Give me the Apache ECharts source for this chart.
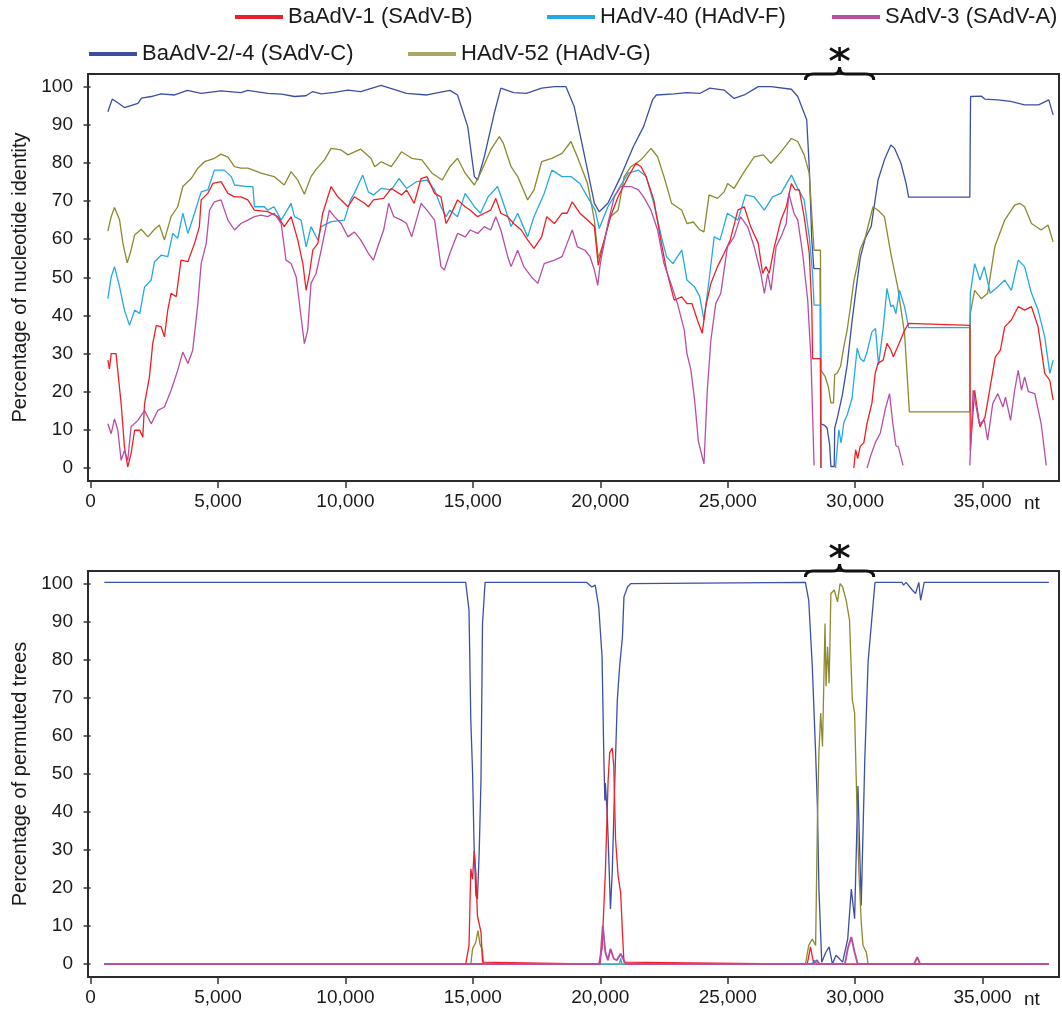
<!DOCTYPE html>
<html>
<head>
<meta charset="utf-8">
<title>Similarity and bootscan plots</title>
<script src="https://cdn.jsdelivr.net/npm/echarts@6/dist/echarts.min.js"></script>
<style>
  html, body { margin: 0; padding: 0; background: #fff; }
  #chart { width: 1062px; height: 1009px; }
</style>
</head>
<body>
<div id="chart"></div>
<script>
// series names as in the legend
var names = ['BaAdV-1 (SAdV-B)', 'HAdV-40 (HAdV-F)', 'SAdV-3 (SAdV-A)', 'BaAdV-2/-4 (SAdV-C)', 'HAdV-52 (HAdV-G)']

var xTicks = [0, 5000, 10000, 15000, 20000, 25000, 30000, 35000]
var yTicks = [0, 10, 20, 30, 40, 50, 60, 70, 80, 90, 100]

// region marked with the asterisk (nt)
var braceRange = [28050, 30730]

// ---- top panel: percentage of nucleotide identity ----
var simBlue = [[680,93.4],[850,96.7],[1000,96.1],[1330,94.5],[1860,95.6],[2000,97],[2380,97.4],[2770,98.1],[3300,97.8],[3800,99],[4340,98.2],[5120,98.9],[5900,98.4],[6170,99],[6950,98.2],[7500,98],[8000,97.4],[8450,97.6],[8720,98.7],[9050,98.1],[9570,98.5],[10100,99.1],[10600,98.7],[11400,100.3],[12400,98.2],[13200,97.8],[14100,99],[14400,97.8],[14800,89.5],[15060,76.4],[15190,75.5],[15450,81.6],[15840,93],[16100,99.6],[16600,98.4],[17100,98.2],[17700,99.6],[18200,100],[18650,100],[18980,94.7],[19500,78.1],[19770,69.4],[19960,67.2],[20300,69.4],[20800,76.4],[21300,84.3],[21700,89.5],[22050,96.5],[22200,97.8],[22900,98.1],[23400,98.4],[23900,98.2],[24300,99.6],[24860,99.1],[25250,96.9],[25650,97.8],[26200,100],[26700,100],[27500,99.3],[27750,97.4],[28100,91.3],[28200,79],[28300,59.8],[28380,52.3],[28630,52.3],[28650,11.6],[28800,11.2],[28900,10.5],[29000,6.1],[29050,0.4],[29180,0.4],[29200,10.5],[29300,13.1],[29500,19.2],[29690,27.1],[29880,38.5],[30080,49],[30200,55.1],[30400,60.3],[30630,63.3],[30900,75.5],[31150,80.8],[31400,84.7],[31550,83.8],[31800,79.9],[32000,74.6],[32100,71],[34500,71],[34530,97.4],[34950,97.5],[35100,96.7],[35600,96.5],[36100,96.1],[36650,95.2],[37200,95.2],[37600,96.5],[37770,92.6]]

var simOlive = [[680,62.1],[810,65.9],[940,68.3],[1140,65],[1270,58.9],[1440,53.8],[1590,57.1],[1730,61.1],[1990,62.6],[2250,60.6],[2510,62.6],[2700,63.7],[2900,59.8],[3160,65.9],[3420,68.5],[3620,73.8],[3950,75.9],[4210,78.6],[4470,80.3],[4860,81.2],[5120,82.3],[5390,81.5],[5650,79],[5900,78.6],[6170,78.6],[6690,77.3],[7200,76.4],[7600,74.2],[7870,77.7],[8130,75.5],[8390,71.8],[8650,76.4],[8850,78.3],[9180,80.8],[9440,83.8],[9830,83.4],[10100,82.1],[10600,83.6],[11000,81.2],[11150,79],[11400,80.3],[11800,79],[12200,82.9],[12600,81.2],[13000,80.8],[13400,77.3],[13800,75.5],[14100,79],[14400,81.2],[14700,77.3],[15060,74.2],[15300,77.3],[15700,83.4],[16040,86.9],[16200,85.1],[16500,79],[16760,76.4],[17150,70.3],[17400,72.9],[17700,80.3],[18100,81.2],[18500,82.5],[18850,85.6],[19100,81.6],[19500,74.6],[19770,65],[19920,54.9],[20160,59.8],[20400,65.9],[20700,67.6],[20940,76.4],[21200,79],[21600,80.8],[21990,83.8],[22250,81.6],[22500,76.4],[22800,69.4],[23200,67.6],[23400,64.1],[23650,64.5],[23900,62.5],[24070,61.9],[24270,71.6],[24600,70.7],[24860,72.4],[25000,74.6],[25250,73.3],[25650,77.7],[26040,81.6],[26400,82.1],[26700,79.9],[27090,82.9],[27500,86.4],[27750,85.6],[28000,82.1],[28200,77.3],[28330,63.3],[28390,57.1],[28640,57.1],[28660,25.6],[28820,24],[28950,21.3],[29050,17.1],[29150,17.1],[29200,24.5],[29300,24.9],[29430,26.7],[29560,31.9],[29690,36.3],[29820,42.4],[29950,49],[30080,53],[30200,57.3],[30400,60.5],[30700,68.5],[30900,67.6],[31150,65.9],[31400,56.3],[31670,47.5],[31940,35.3],[32130,14.7],[34500,14.7],[34520,40.5],[34690,46.6],[34950,44.4],[35200,45.8],[35480,58],[35870,65],[36260,68.9],[36460,69.4],[36650,68.5],[36920,64.1],[37300,62.4],[37570,63.7],[37770,59.3]]

var simCyan = [[680,44.4],[810,50.1],[940,52.8],[1140,47.5],[1330,41.4],[1530,37.4],[1730,41.4],[1930,40.5],[2120,47.5],[2380,49.3],[2510,54.1],[2770,55.8],[3030,55.4],[3230,61.5],[3420,60.2],[3620,66.8],[3820,61.5],[4080,66.8],[4340,72.4],[4600,72.9],[4860,78.1],[5250,78.1],[5520,76.4],[5650,74.2],[6170,73.8],[6370,73.8],[6430,68.5],[6820,68.5],[6950,67.6],[7200,68.5],[7480,65],[7870,69.4],[8000,65.9],[8260,65],[8460,58],[8650,63.3],[8920,59.8],[9050,63.3],[9440,64.6],[9960,65],[10200,70.3],[10350,72],[10680,76.8],[10900,72.4],[11100,71.6],[11400,73.3],[11800,72.9],[12100,75.9],[12400,73.3],[12800,75.1],[13200,75.5],[13500,72.9],[13750,68.5],[13950,65.9],[14100,67.6],[14400,65.9],[14700,72],[15060,68.5],[15300,66.8],[15600,71.1],[15970,73.8],[16200,69.4],[16500,63.3],[16760,66.8],[17150,60.6],[17400,65.9],[17800,72],[18100,78.1],[18500,76.4],[18850,76.4],[19200,74.6],[19500,71.1],[19800,67.6],[19960,62.8],[20300,68.5],[20700,72.9],[21100,77.3],[21500,78.1],[21800,76.4],[22100,69.4],[22400,60.6],[22600,55.4],[22850,53.6],[23200,57.1],[23400,49.3],[23700,47.5],[23900,45],[24070,38.8],[24270,49.3],[24470,60.6],[24700,59.8],[24990,66.8],[25400,65],[25700,71.6],[26040,71.1],[26440,67.6],[26760,71.1],[27090,72],[27500,76.8],[27750,73.3],[28000,70.3],[28200,60.6],[28330,51],[28390,42.7],[28640,42.7],[28660,0],[28680,'-'],[29230,0],[29360,10],[29450,6.6],[29560,12],[29690,13.9],[29880,18.3],[30080,31.4],[30200,28.7],[30340,27.9],[30470,30.5],[30660,35.7],[30800,36.6],[30920,27],[31100,36.6],[31250,47.1],[31400,42.3],[31500,42.7],[31600,40.5],[31740,46.6],[31940,42.3],[32100,36.8],[34500,36.8],[34520,45.8],[34690,53.6],[34900,49.3],[35070,52.8],[35300,45.8],[35600,47.5],[35870,49.3],[36130,46.6],[36400,54.5],[36650,52.8],[36920,45.8],[37180,41.4],[37440,34.4],[37640,24.8],[37770,28.3]]

var simRed = [[680,28.3],[740,26],[810,30],[1000,30],[1200,16.9],[1330,5.5],[1460,0.3],[1590,3.8],[1730,9.9],[1930,9.9],[2050,8.1],[2120,16.9],[2310,23.9],[2440,32.6],[2580,37.4],[2770,37],[2900,34.4],[3030,41.4],[3160,45.8],[3360,44.9],[3550,54.5],[3820,54.1],[4080,58.9],[4270,63.3],[4340,70.3],[4600,72],[4800,74.6],[5120,75.1],[5390,72],[5650,71.1],[5900,71.1],[6170,70.3],[6430,67.6],[6950,67.2],[7350,65.9],[7600,63.3],[7870,65.9],[8130,59.8],[8330,53.6],[8460,46.6],[8590,51],[8720,57.1],[8920,58.9],[9110,66.8],[9440,73.8],[9700,71.1],[10100,68.5],[10350,71.1],[10750,69.4],[10900,68.5],[11100,70.3],[11500,70.7],[11800,73.3],[12200,71.6],[12400,72.9],[12700,69.4],[12970,75.9],[13200,76.4],[13500,72],[13750,71.1],[13950,64.1],[14100,65.9],[14400,70.3],[14700,68.5],[14900,67.6],[15190,65.9],[15450,66.8],[15700,67.6],[15900,70.7],[16100,66.8],[16370,65.9],[16600,64.1],[16900,62.4],[17150,59.8],[17400,57.6],[17700,60.6],[17900,65.9],[18200,64.1],[18500,66.8],[18700,66.8],[18900,69.8],[19200,66.8],[19500,65],[19770,63.3],[19920,53.2],[20160,59.8],[20400,65.9],[20700,71.1],[21100,76.4],[21400,79.9],[21600,79],[21800,76.4],[22100,70.3],[22400,58.9],[22600,51.9],[22900,44],[23200,44.9],[23400,43.1],[23600,43.1],[23800,39],[24000,35.3],[24140,42.3],[24340,48.4],[24600,52.8],[24860,56.3],[25100,59.8],[25400,67.6],[25650,68.5],[25900,63.3],[26200,58.9],[26370,51],[26500,52.8],[26630,51],[26830,58],[27090,65],[27300,68.5],[27500,74.6],[27650,72.9],[27810,72.9],[28000,65.9],[28200,56.3],[28300,42.3],[28330,28.7],[28640,28.7],[28660,0],[28680,'-'],[29950,0],[30020,4.8],[30100,2.5],[30200,5.7],[30340,6.6],[30470,11.8],[30660,17],[30790,24.9],[30900,27.5],[31100,28.3],[31250,32.7],[31400,31],[31500,29.2],[31670,31.8],[31940,36.1],[32100,37.9],[32150,37.4],[34500,37.4],[34520,4.6],[34690,20.4],[34800,15.1],[34900,10.8],[35100,13.4],[35300,21.3],[35500,29.1],[35700,30.9],[35870,37],[36130,38.8],[36400,42.3],[36650,41.4],[36920,42.3],[37180,37],[37440,24.8],[37640,23],[37770,17.8]]

var simMagenta = [[680,11.6],[810,9],[940,12.9],[1070,9.9],[1200,2],[1330,4.6],[1460,2],[1590,10.8],[1860,12.5],[2120,15.1],[2380,11.6],[2640,15.1],[2900,16],[3160,20.4],[3420,25.6],[3620,30.4],[3820,27.4],[4010,30.9],[4210,43.1],[4340,53.6],[4540,58.9],[4670,67.6],[4860,69.8],[5120,70.3],[5390,65],[5650,62.4],[5900,64.1],[6170,65],[6430,65.9],[6690,66.3],[6950,65.9],[7200,66.8],[7480,64.1],[7670,54.5],[7870,53.6],[8070,50.1],[8260,39.6],[8390,32.6],[8520,36.1],[8650,48.4],[8850,51],[9050,57.1],[9370,67.6],[9570,65.9],[9830,64.1],[10100,60.6],[10350,61.9],[10600,59.8],[10900,56.3],[11100,54.5],[11270,58],[11500,62.4],[11700,69.4],[11900,65.9],[12200,65],[12400,64.1],[12600,60.6],[12970,69.4],[13200,67.6],[13500,65],[13750,52.8],[13880,51.9],[14100,56.3],[14400,61.5],[14700,60.6],[14900,62.4],[15190,61.5],[15450,63.3],[15700,62.4],[15900,65.9],[16100,62.4],[16370,55.4],[16500,52.8],[16760,57.1],[17000,52.8],[17300,50.1],[17550,48.4],[17800,53.6],[18200,54.5],[18500,55.4],[18700,58.9],[18900,62.4],[19100,58],[19400,57.1],[19600,55.4],[19770,51.9],[19900,47.9],[20000,53.6],[20300,64.1],[20550,71.1],[20800,73.8],[21200,73.8],[21500,72.9],[21700,71.1],[21990,67.6],[22250,62.4],[22500,53.6],[22770,48.4],[23030,43.1],[23300,36.1],[23400,30],[23550,26],[23700,18],[23850,7],[24000,3],[24070,1.1],[24200,20.4],[24340,33.5],[24530,43.1],[24730,45.8],[24990,58],[25250,60.6],[25500,65.9],[25780,63.3],[26040,58],[26300,51],[26440,45.8],[26570,51],[26700,46.6],[26900,58],[27090,60.6],[27300,64.1],[27400,72],[27600,66.8],[27750,65],[27940,56.3],[28140,44],[28270,28.3],[28390,0.7],[28420,'-'],[30470,0],[30600,3],[30790,6.6],[30990,9.2],[31180,15.3],[31350,19.5],[31480,11.6],[31600,5.9],[31700,5.5],[31880,0.7],[31900,'-'],[34500,0.7],[34630,20.4],[34750,16],[34870,11.6],[35070,12.5],[35200,7.3],[35400,16.9],[35600,19.5],[35800,16],[35900,18.6],[36100,12.5],[36260,20.4],[36400,25.6],[36530,20.4],[36650,23.9],[36800,20],[37050,19.5],[37300,11.6],[37500,0.7]]

// ---- bottom panel: percentage of permuted trees ----
var bootBlue = [[540,100.3],[14720,100.3],[14850,93],[14920,64.2],[14990,50.3],[15050,31],[15120,18],[15180,17.1],[15250,29.3],[15320,48.5],[15380,89.5],[15480,100.3],[19470,100.3],[19670,99.1],[19800,99.6],[19940,93.9],[20070,80.8],[20140,54.6],[20180,43],[20200,47.6],[20270,39.8],[20310,32.8],[20400,14.5],[20470,24.1],[20580,50.3],[20670,69.5],[20760,78.2],[20870,86],[20930,96.5],[21070,99.1],[21200,100],[21270,100.3],[28050,100.3],[28180,95.6],[28320,78.2],[28450,55.5],[28520,41.5],[28580,19.7],[28690,0.5],[28850,3.1],[28980,4.5],[29110,0],[29250,2.3],[29510,0.5],[29710,6.6],[29850,19.7],[29980,11.9],[30110,46.8],[30240,15.4],[30380,53.8],[30510,79.5],[30640,89.5],[30780,100.3],[31840,100.3],[31900,99.6],[32000,100.3],[32240,98.3],[32370,97.4],[32500,100.3],[32570,95.6],[32710,100.3],[37600,100.3]]

var bootOlive = [[540,0],[14920,0],[14990,4],[15120,5.8],[15200,8.8],[15280,5.3],[15380,3.6],[15420,0],[28050,0],[28180,4.9],[28320,6.6],[28450,4.9],[28520,37.2],[28580,55.5],[28650,66],[28720,57.2],[28820,89.5],[28860,73],[28920,83.4],[28980,73.8],[29050,97.4],[29180,98.3],[29310,95.2],[29410,100],[29510,99.1],[29650,95.6],[29780,90.4],[29890,69.5],[29980,66],[30070,41.5],[30150,24.1],[30240,11],[30310,4.9],[30440,3.1],[30510,0],[37600,0]]

var bootCyan = [[540,0],[20750,0],[20800,1.5],[20850,0],[28300,0],[28400,1],[28500,0],[37600,0]]

var bootRed = [[540,0],[14720,0],[14850,4.9],[14920,25],[14990,22.3],[15050,29.8],[15120,24],[15180,12.7],[15320,8.4],[15380,0.5],[15420,0],[19940,0],[20070,4],[20200,24.1],[20310,48.5],[20370,55.5],[20470,56.8],[20530,52],[20600,32.8],[20700,23.2],[20800,18.8],[20870,8.4],[20930,0.5],[21000,0],[28120,0],[28250,4.5],[28350,1],[28400,0],[37600,0]]

var bootMagenta = [[540,0],[19990,0],[20100,10.1],[20200,3.1],[20300,1],[20400,4],[20530,1.4],[20650,1],[20800,2.7],[21000,0],[28350,0],[28500,1],[28600,0],[29600,0],[29710,4],[29850,7.1],[29980,3.1],[30100,0],[32310,0],[32440,1.8],[32550,0],[37600,0]]

var lineColors = { red: '#ef1f26', cyan: '#25a9e3', magenta: '#b64ea6', blue: '#3c4fa6', olive: '#8c8a2e' }
var legendColors = { red: '#e8202a', cyan: '#27a9e1', magenta: '#b6509f', blue: '#3b4ea0', olive: '#aaa765' }

var FONT = '"Liberation Sans", Arial, Helvetica, sans-serif'
var INK = '#1a1a1a'

function makeXAxis(gridIndex) {
  return {
    type: 'value',
    gridIndex: gridIndex,
    min: -100,
    max: 38000,
    axisLine: { show: false, onZero: false },
    axisTick: { show: true, customValues: xTicks, length: 7, lineStyle: { color: '#333', width: 1.5 } },
    axisLabel: {
      customValues: xTicks,
      margin: 11,
      fontSize: 19,
      color: INK,
      fontFamily: FONT,
      formatter: function(v) { return Number(v).toLocaleString('en-US') }
    },
    splitLine: { show: false },
    name: 'nt',
    nameLocation: 'end',
    nameGap: -35,
    nameTextStyle: { fontSize: 19, color: INK, fontFamily: FONT, verticalAlign: 'top', padding: [13, 0, 0, 0] }
  }
}

function makeYAxis(gridIndex, title) {
  return {
    type: 'value',
    gridIndex: gridIndex,
    min: -3.4,
    max: 103.3,
    axisLine: { show: false },
    axisTick: { show: true, customValues: yTicks, length: 7, lineStyle: { color: '#333', width: 1.5 } },
    axisLabel: { customValues: yTicks, margin: 15, fontSize: 19, color: INK, fontFamily: FONT },
    splitLine: { show: false },
    name: title,
    nameLocation: 'middle',
    nameGap: 53,
    nameTextStyle: { fontSize: 20, color: INK, fontFamily: FONT }
  }
}

function makeLine(name, data, color, idx, z, width) {
  return {
    name: name,
    type: 'line',
    xAxisIndex: idx,
    yAxisIndex: idx,
    data: data,
    z: z,
    symbol: 'none',
    connectNulls: false,
    lineStyle: { color: color, width: width || 1.3 },
    itemStyle: { color: color },
    emphasis: { disabled: true },
    silent: true
  }
}

function makeLegend(name, color, left, top) {
  return {
    left: left,
    top: top,
    padding: 0,
    selectedMode: false,
    icon: 'rect',
    itemWidth: 48,
    itemHeight: 4,
    textStyle: { fontSize: 22, color: INK, fontFamily: FONT },
    data: [{ name: name, itemStyle: { color: color } }]
  }
}

var chart = echarts.init(document.getElementById('chart'), null, { renderer: 'canvas' })

chart.setOption({
  animation: false,
  backgroundColor: '#fff',
  legend: [
    makeLegend(names[0], legendColors.red, 235, 6),
    makeLegend(names[1], legendColors.cyan, 547, 6),
    makeLegend(names[2], legendColors.magenta, 832, 6),
    makeLegend(names[3], legendColors.blue, 89, 43),
    makeLegend(names[4], legendColors.olive, 408, 43)
  ],
  grid: [
    { left: 88, top: 74, width: 971, height: 407, show: true, borderColor: '#2b2b2b', borderWidth: 2 },
    { left: 88, top: 571, width: 971, height: 407, show: true, borderColor: '#2b2b2b', borderWidth: 2 }
  ],
  xAxis: [makeXAxis(0), makeXAxis(1)],
  yAxis: [
    makeYAxis(0, 'Percentage of nucleotide identity'),
    makeYAxis(1, 'Percentage of permuted trees')
  ],
  series: [
    makeLine(names[3], simBlue, lineColors.blue, 0, 2),
    makeLine(names[4], simOlive, lineColors.olive, 0, 3),
    makeLine(names[1], simCyan, lineColors.cyan, 0, 4),
    makeLine(names[0], simRed, lineColors.red, 0, 5),
    makeLine(names[2], simMagenta, lineColors.magenta, 0, 6),
    makeLine(names[3], bootBlue, lineColors.blue, 1, 2),
    makeLine(names[4], bootOlive, lineColors.olive, 1, 3),
    makeLine(names[1], bootCyan, lineColors.cyan, 1, 4),
    makeLine(names[0], bootRed, lineColors.red, 1, 5),
    makeLine(names[2], bootMagenta, lineColors.magenta, 1, 6, 1.9)
  ]
})

// brace + asterisk over the marked region, placed through the axes
function braceGraphics(idx) {
  var a = chart.convertToPixel({ xAxisIndex: idx, yAxisIndex: idx }, [braceRange[0], 103.3])
  var b = chart.convertToPixel({ xAxisIndex: idx, yAxisIndex: idx }, [braceRange[1], 103.3])
  var x0 = a[0], x1 = b[0], y = a[1], xc = (x0 + x1) / 2
  var st = { stroke: '#111', lineWidth: 3, fill: null }
  function curve(sx, sy, cx, cy, ex, ey) {
    return { type: 'bezierCurve', shape: { x1: sx, y1: sy, cpx1: cx, cpy1: cy, x2: ex, y2: ey }, style: st, z: 100 }
  }
  function seg(sx, sy, ex, ey, w) {
    return { type: 'line', shape: { x1: sx, y1: sy, x2: ex, y2: ey }, style: { stroke: '#111', lineWidth: w || 3 }, z: 100 }
  }
  // asterisk: three strokes crossing at its centre
  var cy = y - 20, arm = 11, dx = arm * Math.cos(Math.PI / 6), dy = arm * Math.sin(Math.PI / 6)
  return [
    curve(x0, y + 6, x0, y, x0 + 8, y),
    seg(x0 + 8, y, xc - 6, y),
    curve(xc - 6, y, xc, y, xc, y - 7),
    curve(xc, y - 7, xc, y, xc + 6, y),
    seg(xc + 6, y, x1 - 8, y),
    curve(x1 - 8, y, x1, y, x1, y + 6),
    seg(xc, cy - 7, xc, cy + 7, 2.6),
    seg(xc - dx, cy - dy, xc + dx, cy + dy, 2.6),
    seg(xc - dx, cy + dy, xc + dx, cy - dy, 2.6)
  ]
}

chart.setOption({ graphic: braceGraphics(0).concat(braceGraphics(1)) })
</script>
</body>
</html>
